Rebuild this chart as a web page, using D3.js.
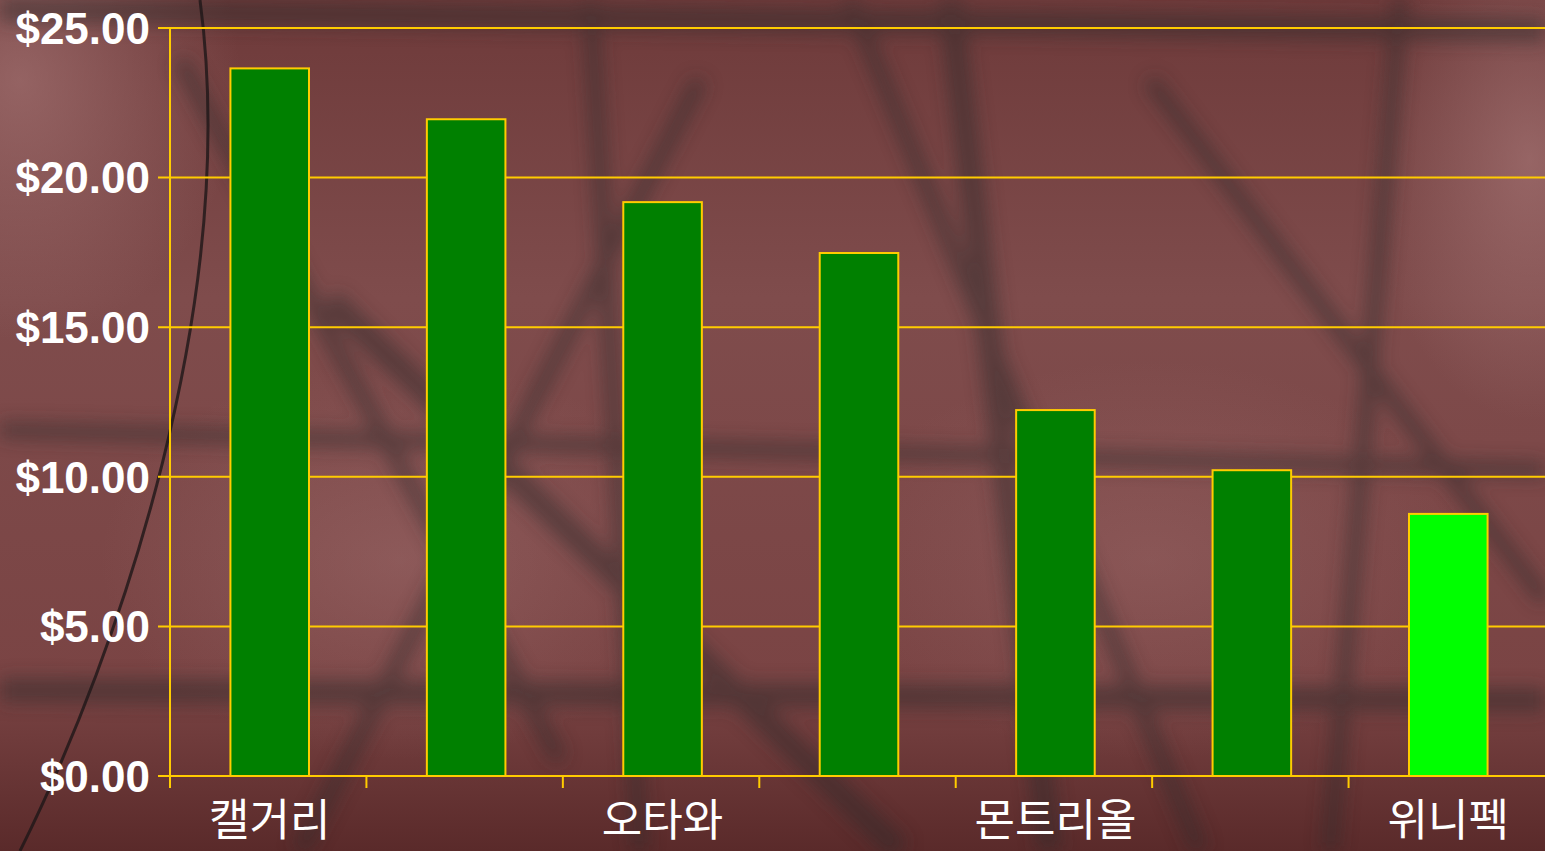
<!DOCTYPE html>
<html>
<head>
<meta charset="utf-8">
<script src="https://cdn.jsdelivr.net/npm/d3@7"></script>
<style>
html,body{margin:0;padding:0;overflow:hidden;background:#6e3c3c;}
svg{display:block;}
</style>
</head>
<body>
<svg id="chart" width="1545" height="851"></svg>
<script>
const categories = ["캘거리", "토론토", "오타와", "밴쿠버", "몬트리올", "에드먼턴", "위니펙"];
const values = [23.65, 21.95, 19.18, 17.48, 12.23, 10.22, 8.76];
const shownLabels = ["캘거리", "오타와", "몬트리올", "위니펙"];
const highlight = ["위니펙"];
const yTicks = [0, 5, 10, 15, 20, 25];

const W = 1545, H = 851;
const margin = {top: 28, right: 0, bottom: 75, left: 170};
const svg = d3.select("#chart");
const defs = svg.append("defs");

// background (approximation of photo)
const lg = defs.append("linearGradient").attr("id","bg").attr("x1","0").attr("y1","0").attr("x2","0").attr("y2","1");
lg.append("stop").attr("offset","0").attr("stop-color","#6e3a3a");
lg.append("stop").attr("offset","0.35").attr("stop-color","#7f4c4c");
lg.append("stop").attr("offset","0.8").attr("stop-color","#7a4444");
lg.append("stop").attr("offset","1").attr("stop-color","#5a2a2a");
svg.append("rect").attr("width",W).attr("height",H).attr("fill","url(#bg)");
const rg = defs.append("radialGradient").attr("id","glow").attr("cx","0.5").attr("cy","0.5").attr("r","0.5");
rg.append("stop").attr("offset","0").attr("stop-color","#b08080").attr("stop-opacity",0.55);
rg.append("stop").attr("offset","1").attr("stop-color","#b08080").attr("stop-opacity",0);
svg.append("ellipse").attr("cx",20).attr("cy",80).attr("rx",220).attr("ry",260).attr("fill","url(#glow)");
svg.append("ellipse").attr("cx",1530).attr("cy",160).attr("rx",160).attr("ry",260).attr("fill","url(#glow)");
svg.append("ellipse").attr("cx",400).attr("cy",560).attr("rx",300).attr("ry",200).attr("fill","url(#glow)").attr("opacity",0.6);
svg.append("ellipse").attr("cx",1150).attr("cy",560).attr("rx",320).attr("ry",200).attr("fill","url(#glow)").attr("opacity",0.5);
defs.append("filter").attr("id","blur").attr("x","-20%").attr("y","-20%").attr("width","140%").attr("height","140%")
  .append("feGaussianBlur").attr("stdDeviation",9);
const deco = svg.append("g").attr("filter","url(#blur)").attr("stroke","#2e2a2c").attr("fill","none").attr("opacity",0.5);
const decoLines = [
  [[0,10],[1545,30]],[[180,60],[560,760]],[[590,0],[640,851]],[[950,0],[1050,851]],
  [[1400,0],[1330,851]],[[0,430],[1545,470]],[[330,300],[900,851]],[[700,80],[300,851]],
  [[1150,80],[1545,600]],[[0,690],[1545,700]],[[850,0],[1200,851]]
];
decoLines.forEach((l,i)=>deco.append("line").attr("x1",l[0][0]).attr("y1",l[0][1]).attr("x2",l[1][0]).attr("y2",l[1][1])
  .attr("stroke-width", i%3===0?24:16));
svg.append("path").attr("d","M200,0 C240,300 120,650 20,851").attr("stroke","#1e1618").attr("stroke-width",3).attr("fill","none").attr("opacity",0.8);

const x = d3.scaleBand().domain(categories).range([margin.left + 1.5, W - margin.right + 1.5]).paddingInner(0.6).paddingOuter(0.3);
const y = d3.scaleLinear().domain([0, 25]).range([H - margin.bottom, margin.top]);
const gold = "#ffcc00";

// gridlines
svg.append("g").selectAll("line").data(yTicks).join("line")
  .attr("x1", margin.left - 12).attr("x2", W)
  .attr("y1", d => y(d)).attr("y2", d => y(d))
  .attr("stroke", gold).attr("stroke-width", 2);

// bars
svg.append("g").selectAll("rect").data(categories).join("rect")
  .attr("x", d => x(d)).attr("width", x.bandwidth())
  .attr("y", (d,i) => y(values[i])).attr("height", (d,i) => y(0) - y(values[i]))
  .attr("fill", d => highlight.includes(d) ? "#00ff00" : "#008000")
  .attr("stroke", gold).attr("stroke-width", 2);

// y axis line
svg.append("line").attr("x1", margin.left).attr("x2", margin.left)
  .attr("y1", y(25)).attr("y2", y(0) + 12).attr("stroke", gold).attr("stroke-width", 2);

// x ticks at band boundaries
const bounds = d3.range(categories.length).map(i => margin.left + i * (W - margin.left) / categories.length);
svg.append("g").selectAll("line").data(bounds.slice(1)).join("line")
  .attr("x1", d => d).attr("x2", d => d).attr("y1", y(0)).attr("y2", y(0) + 12)
  .attr("stroke", gold).attr("stroke-width", 2);

// y labels
svg.append("g").selectAll("text").data(yTicks).join("text")
  .attr("x", 150).attr("y", d => y(d)).attr("dy", "0.36em")
  .attr("text-anchor", "end").attr("fill", "#fff")
  .attr("font-family", "Liberation Sans, Arial, sans-serif").attr("font-weight", "bold").attr("font-size", 44)
  .text(d => d3.format("$.2f")(d));

// x labels
svg.append("g").selectAll("text").data(shownLabels).join("text")
  .attr("x", d => x(d) + x.bandwidth()/2).attr("y", 836)
  .attr("text-anchor", "middle").attr("fill", "#fff")
  .attr("font-family", "Noto Sans CJK KR, sans-serif").attr("font-size", 44)
  .text(d => d);
</script>
</body>
</html>
